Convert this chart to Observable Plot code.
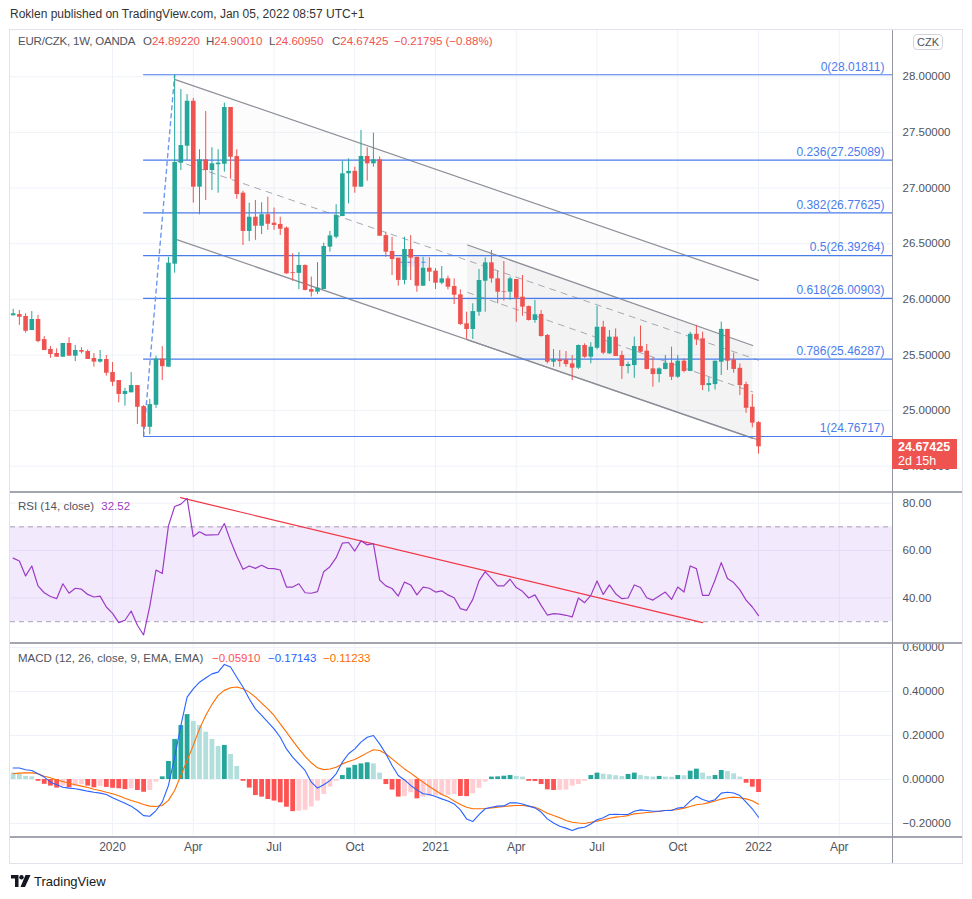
<!DOCTYPE html>
<html><head><meta charset="utf-8">
<script src="https://cdn.jsdelivr.net/npm/d3@7"></script>
<script src="https://cdn.jsdelivr.net/npm/@observablehq/plot@0.6"></script>
<style>
body{margin:0;background:#fff;font-family:"Liberation Sans",Arial,sans-serif;}
#root{position:relative;width:972px;height:899px;overflow:hidden;background:#fff;}
.abs{position:absolute;white-space:nowrap;}
.line{position:absolute;}
</style></head><body><div id="root"></div>
<script>
// ---------- DATA ----------
const barStart = "2019-09-16"; // first weekly bar (Monday)
const open = [25.852,25.863,25.846,25.720,25.819,25.638,25.549,25.513,25.480,25.603,25.489,25.540,25.531,25.468,25.436,25.459,
 25.342,25.270,25.145,25.160,25.225,25.036,24.850,25.048,25.462,25.390,
 26.316,27.224,27.376,27.780,27.008,27.254,27.158,27.210,27.214,27.724,
 27.283,26.954,26.610,26.738,26.657,26.760,26.684,26.673,26.640,26.240,
 26.233,26.304,26.088,26.064,26.088,26.469,26.558,26.744,27.128,27.150,
 27.008,27.284,27.218,27.254,26.573,26.430,26.370,26.170,26.448,26.378,
 26.118,26.280,26.253,26.145,26.184,26.115,26.040,25.780,25.729,25.884,
 26.163,26.328,26.184,26.070,26.064,26.178,26.019,25.935,25.810,25.864,
 25.675,25.435,25.456,25.456,25.420,25.381,25.585,25.480,25.560,25.749,
 25.510,25.660,25.495,25.396,25.405,25.576,25.534,25.375,25.324,25.370,
 25.426,25.300,25.444,25.352,25.686,25.645,25.225,25.234,25.435,25.730,
 25.456,25.380,25.234,25.030,24.8922];
const high = [25.910,25.900,25.870,25.890,25.855,25.665,25.576,25.555,25.603,25.657,25.585,25.565,25.545,25.513,25.540,25.495,
 25.432,25.270,25.200,25.342,25.225,25.045,25.100,25.490,25.575,26.378,
 28.018,27.886,27.840,27.805,27.344,27.688,27.362,27.344,27.763,27.724,
 27.344,26.972,26.864,26.888,26.868,26.918,26.820,26.738,26.650,26.410,
 26.420,26.310,26.200,26.330,26.504,26.610,26.850,27.242,27.263,27.188,
 27.518,27.362,27.494,27.280,26.603,26.558,26.370,26.558,26.573,26.378,
 26.378,26.375,26.277,26.295,26.208,26.184,26.085,25.884,25.960,26.268,
 26.373,26.439,26.253,26.340,26.200,26.178,26.214,25.940,25.990,25.900,
 25.684,25.549,25.540,25.531,25.495,25.590,25.600,25.610,25.936,25.803,
 25.720,25.735,25.534,25.435,25.660,25.760,25.594,25.474,25.384,25.495,
 25.570,25.495,25.465,25.704,25.766,25.705,25.295,25.444,25.795,25.730,
 25.516,25.420,25.255,25.145,24.9001];
const low = [25.852,25.766,25.696,25.720,25.610,25.540,25.470,25.480,25.480,25.489,25.440,25.510,25.459,25.390,25.427,25.310,
 25.216,25.070,25.040,25.160,24.875,24.767,24.783,25.020,25.270,25.390,
 26.235,27.158,27.248,26.864,26.760,26.888,26.978,26.954,27.143,27.080,
 26.900,26.484,26.520,26.530,26.582,26.620,26.620,26.574,26.225,26.163,
 26.086,26.075,26.020,26.043,26.088,26.424,26.544,26.744,26.858,26.954,
 27.008,27.062,27.188,26.567,26.378,26.214,26.118,26.130,26.170,26.064,
 26.118,26.160,26.088,26.130,26.085,25.953,25.765,25.640,25.640,25.848,
 25.884,26.145,25.960,25.985,25.990,25.794,25.848,25.805,25.785,25.660,
 25.420,25.390,25.390,25.390,25.270,25.370,25.470,25.420,25.546,25.504,
 25.504,25.486,25.280,25.330,25.290,25.520,25.365,25.210,25.250,25.365,
 25.270,25.290,25.340,25.350,25.585,25.180,25.166,25.185,25.315,25.360,
 25.336,25.135,24.976,24.845,24.6095];
const close = [25.870,25.839,25.713,25.819,25.620,25.540,25.504,25.480,25.603,25.489,25.540,25.525,25.459,25.436,25.459,25.336,
 25.255,25.145,25.172,25.225,25.030,24.850,25.054,25.462,25.395,26.325,
 27.230,27.382,27.780,27.008,27.254,27.158,27.218,27.224,27.724,27.277,
 26.942,26.610,26.738,26.657,26.760,26.675,26.664,26.630,26.229,26.233,
 26.304,26.080,26.064,26.100,26.475,26.570,26.753,27.128,27.150,27.008,
 27.284,27.218,27.254,26.567,26.424,26.358,26.170,26.448,26.370,26.118,
 26.280,26.244,26.145,26.184,26.109,26.037,25.774,25.729,25.890,26.169,
 26.328,26.184,26.064,26.064,26.184,26.010,25.930,25.810,25.861,25.666,
 25.435,25.459,25.440,25.414,25.381,25.585,25.480,25.570,25.749,25.516,
 25.660,25.486,25.396,25.414,25.576,25.525,25.370,25.324,25.375,25.426,
 25.300,25.444,25.352,25.686,25.636,25.225,25.243,25.444,25.730,25.444,
 25.370,25.225,25.021,24.887,24.67425];
const rsi = [56.8,55.6,49.3,53.5,45.1,42.2,40.6,39.7,46.0,42.0,44.1,43.7,41.5,40.4,40.8,36.2,
 33.5,29.6,30.6,34.5,28.5,24.4,36.6,51.8,50.3,70.4,
 78.6,79.6,82.0,65.9,67.9,66.5,66.6,66.7,71.4,64.1,
 57.7,52.1,53.5,52.5,53.8,52.5,52.4,51.8,44.6,44.6,
 46.0,42.2,42.0,42.7,51.1,53.2,57.0,63.1,63.4,59.8,
 64.1,62.4,62.9,47.6,45.1,44.0,40.8,46.7,45.5,41.3,
 44.6,44.1,42.5,43.0,41.3,40.1,35.5,34.8,39.4,47.2,
 51.1,48.2,45.1,45.1,47.9,44.4,42.8,40.0,41.3,36.9,
 32.8,33.4,33.2,32.7,32.0,40.0,38.0,41.1,47.2,41.5,
 45.5,41.8,39.7,40.0,45.5,44.4,40.1,39.1,40.8,42.5,
 39.4,44.6,42.5,53.5,52.4,41.1,41.1,47.6,54.9,48.2,
 46.5,43.4,39.1,36.2,32.52];
const macdLine = [0.052,0.052,0.044,0.041,0.026,0.011,-0.012,-0.024,-0.035,-0.039,-0.042,-0.047,-0.053,-0.058,-0.062,-0.068,
 -0.083,-0.095,-0.108,-0.121,-0.141,-0.164,-0.167,-0.141,-0.103,-0.027,
 0.102,0.245,0.374,0.412,0.442,0.461,0.480,0.488,0.523,0.511,
 0.465,0.420,0.367,0.321,0.291,0.261,0.230,0.192,0.139,0.102,
 0.071,0.041,-0.012,-0.039,-0.024,-0.005,0.026,0.079,0.117,0.139,
 0.170,0.192,0.200,0.162,0.117,0.064,0.018,-0.002,-0.027,-0.047,
 -0.065,-0.068,-0.077,-0.088,-0.098,-0.111,-0.138,-0.179,-0.191,-0.160,
 -0.133,-0.126,-0.121,-0.120,-0.106,-0.106,-0.111,-0.121,-0.129,-0.148,
 -0.179,-0.198,-0.212,-0.221,-0.232,-0.221,-0.217,-0.202,-0.183,-0.174,
 -0.159,-0.158,-0.159,-0.159,-0.144,-0.138,-0.141,-0.144,-0.144,-0.141,
 -0.141,-0.130,-0.126,-0.098,-0.076,-0.091,-0.100,-0.092,-0.062,-0.058,
 -0.061,-0.073,-0.103,-0.133,-0.17143];
const signalLine = [0.026,0.029,0.030,0.030,0.026,0.015,0.008,-0.002,-0.009,-0.017,-0.024,-0.030,-0.036,-0.044,-0.050,-0.058,
 -0.065,-0.074,-0.085,-0.095,-0.103,-0.114,-0.121,-0.123,-0.118,-0.095,
 -0.050,0.018,0.086,0.155,0.230,0.291,0.341,0.382,0.405,0.417,
 0.420,0.412,0.397,0.374,0.347,0.321,0.291,0.253,0.215,0.177,
 0.139,0.105,0.076,0.053,0.045,0.048,0.056,0.071,0.082,0.091,
 0.106,0.121,0.135,0.132,0.117,0.094,0.071,0.048,0.029,0.008,
 -0.012,-0.032,-0.050,-0.068,-0.080,-0.098,-0.114,-0.126,-0.133,-0.133,
 -0.132,-0.129,-0.126,-0.123,-0.120,-0.118,-0.118,-0.121,-0.126,-0.138,
 -0.153,-0.164,-0.174,-0.186,-0.194,-0.198,-0.200,-0.194,-0.189,-0.183,
 -0.176,-0.171,-0.168,-0.164,-0.156,-0.153,-0.150,-0.148,-0.144,-0.141,
 -0.139,-0.136,-0.130,-0.123,-0.115,-0.111,-0.105,-0.098,-0.089,-0.083,
 -0.080,-0.083,-0.088,-0.097,-0.11233];
const histogram = [0.030,0.023,0.014,0.012,-0.008,-0.022,-0.030,-0.039,-0.030,-0.038,-0.031,-0.024,-0.030,-0.038,-0.031,-0.036,
 -0.040,-0.042,-0.046,-0.042,-0.050,-0.058,-0.050,-0.012,0.012,0.082,
 0.182,0.245,0.295,0.264,0.245,0.215,0.182,0.150,0.155,0.114,
 0.059,-0.008,-0.039,-0.073,-0.080,-0.091,-0.098,-0.106,-0.126,-0.146,
 -0.144,-0.140,-0.125,-0.098,-0.068,-0.035,-0.008,0.018,0.052,0.064,
 0.071,0.076,0.071,0.029,-0.023,-0.048,-0.080,-0.078,-0.060,-0.088,
 -0.080,-0.077,-0.074,-0.073,-0.072,-0.068,-0.077,-0.078,-0.065,-0.040,
 -0.012,0.011,0.012,0.015,0.018,0.014,0.011,-0.008,-0.009,-0.023,
 -0.047,-0.050,-0.049,-0.048,-0.030,-0.023,-0.008,0.018,0.029,0.024,
 0.021,0.017,0.014,0.023,0.029,0.018,0.014,0.011,0.014,0.011,
 0.010,0.018,0.017,0.038,0.047,0.029,0.014,0.018,0.041,0.036,
 0.026,0.011,-0.017,-0.035,-0.0591];

const priceTicks = [24.5,25,25.5,26,26.5,27,27.5,28];
const rsiTicks = [40,60,80];
const macdTicks = [-0.2,0,0.2,0.4,0.6];
const xTickDates = ["2020-01-06","2020-04-06","2020-07-06","2020-10-05","2021-01-04","2021-04-05","2021-07-05","2021-10-04","2022-01-03","2022-04-04"];
const xTickLabels = ["2020","Apr","Jul","Oct","2021","Apr","Jul","Oct","2022","Apr"];
const xDomain = ["2019-09-13","2022-06-03"];
const priceDomain = [24.264, 28.416];
const rsiDomain = [20.8, 84.49];
const macdDomain = [-0.259, 0.618];

const fibRatios = [0,0.236,0.382,0.5,0.618,0.786,1];
const fibPrices = [28.01811,27.25089,26.77625,26.39264,26.00903,25.46287,24.76717];
const fibStart = "2020-02-10";
const fibTrendDates = ["2020-02-10","2020-03-16"];
const fibTrendPrices = [24.76717,28.01811];

const channelDates = ["2020-03-16T17:00Z","2022-01-03"];
const channelUpper = [27.975,26.170];
const channelMid = [27.250,25.453];
const channelLower = [26.541,24.736];
const smallDates = ["2021-02-09T05:00Z","2021-12-27T10:00Z"];
const smallUpper = [26.488,25.585];
const smallMid = [26.062,25.168];
const smallLower = [25.636,24.750];
const boxDates = ["2020-11-26","2020-12-27"];
const boxPrices = [26.288,26.333,26.378];

const rsiBandLevels = [30,70];
const rsiTrendDates = ["2020-03-22T15:00Z","2021-11-01"];
const rsiTrendValues = [82.3,29.6];

const lastInfo = {o:"24.89220", h:"24.90010", l:"24.60950", c:"24.67425", chg:"−0.21795 (−0.88%)", countdown:"2d 15h"};

// ---------- BUILD ----------
const UP="#26a69a", DN="#ef5350";
const W = 952;
const xDom = xDomain.map(d=>new Date(d));
const dates = close.map((_,i)=>d3.utcDay.offset(new Date(barStart), 7*i));
const bars = close.map((c,i)=>({date:dates[i], o:open[i], h:high[i], l:low[i], c, col: c>=open[i]?UP:DN}));
const xTicks = xTickDates.map((d,i)=>({date:new Date(d), label:xTickLabels[i], bold:/^\d{4}$/.test(xTickLabels[i])}));
const font = {fontFamily:"'Liberation Sans', Arial, sans-serif", fontSize:"11.5px", color:"#50535e", background:"transparent", overflow:"visible"};
const gridX = () => Plot.ruleX(xTicks, {x:"date", stroke:"#eff2f8"});
const pts = (ds, a, b, c) => ds.map((d,i)=>({date:new Date(d), upper:a[i], mid:b[i], lower:c[i]}));
const bigCh = pts(channelDates, channelUpper, channelMid, channelLower);
const smallCh = pts(smallDates, smallUpper, smallMid, smallLower);
const fibs = fibPrices.map((p,i)=>({ratio:fibRatios[i], price:p, start:new Date(fibStart), end:xDom[1]}));
const fibTrend = fibTrendDates.map((d,i)=>({date:new Date(d), price:fibTrendPrices[i]}));
const box = [{start:new Date(boxDates[0]), end:new Date(boxDates[1]), lo:boxPrices[0], mid:boxPrices[1], hi:boxPrices[2]}];
const fmtNeg = (d,n)=> (d<0?"−":"") + Math.abs(d).toFixed(n);

const pricePlot = Plot.plot({
  width:W, height:462, marginLeft:0, marginRight:70, marginTop:0, marginBottom:0,
  style:font,
  x:{type:"utc", domain:xDom, axis:null},
  y:{domain:priceDomain, axis:null},
  color:{type:"identity"},
  marks:[
    Plot.ruleY(priceTicks, {stroke:"#eff2f8"}),
    gridX(),
    Plot.areaY(bigCh, {x:"date", y1:"lower", y2:"upper", fill:"#787b86", fillOpacity:0.022}),
    Plot.areaY(smallCh, {x:"date", y1:"lower", y2:"upper", fill:"#787b86", fillOpacity:0.065}),
    Plot.line(bigCh, {x:"date", y:"upper", stroke:"#8c8f98", strokeWidth:1.2}),
    Plot.line(bigCh, {x:"date", y:"lower", stroke:"#8c8f98", strokeWidth:1.2}),
    Plot.line(bigCh, {x:"date", y:"mid", stroke:"#a6a9b1", strokeWidth:1, strokeDasharray:"6,6"}),
    Plot.line(smallCh, {x:"date", y:"upper", stroke:"#8c8f98", strokeWidth:1.2}),
    Plot.line(smallCh, {x:"date", y:"lower", stroke:"#8c8f98", strokeWidth:1.2}),
    Plot.line(smallCh, {x:"date", y:"mid", stroke:"#a6a9b1", strokeWidth:1, strokeDasharray:"6,6"}),
    Plot.rect(box, {x1:"start", x2:"end", y1:"lo", y2:"hi", fill:"#2962ff", fillOpacity:0.1}),
    Plot.ruleY(box, {x1:"start", x2:"end", y:"mid", stroke:"#2962ff", strokeOpacity:0.8, strokeDasharray:"4,3"}),
    Plot.ruleY(fibs, {y:"price", x1:"start", x2:"end", stroke:"#4a7deb", strokeWidth:1.2}),
    Plot.text(fibs, {y:"price", text:d=>`${d.ratio}(${d.price.toFixed(5)})`, frameAnchor:"right", dx:-8, dy:-8, textAnchor:"end", fill:"#4a7deb", fontSize:12}),
    Plot.line(fibTrend, {x:"date", y:"price", stroke:"#6e97f0", strokeWidth:1.4, strokeDasharray:"4,4"}),
    Plot.ruleX(bars, {x:"date", y1:"l", y2:"h", stroke:"col", strokeWidth:1}),
    Plot.ruleX(bars, {x:"date", y1:"o", y2:"c", stroke:"col", strokeWidth:4.6}),
    Plot.axisY({anchor:"right", ticks:priceTicks, tickFormat:d=>d.toFixed(5), tickSize:0, tickPadding:10, label:null})
  ]
});

const rsiData = rsi.map((v,i)=>({date:dates[i], v}));
const rsiTrend = rsiTrendDates.map((d,i)=>({date:new Date(d), v:rsiTrendValues[i]}));
const rsiPlot = Plot.plot({
  width:W, height:151, marginLeft:0, marginRight:70, marginTop:0, marginBottom:0,
  style:font,
  x:{type:"utc", domain:xDom, axis:null},
  y:{domain:rsiDomain, axis:null},
  marks:[
    Plot.ruleY(rsiTicks, {stroke:"#eff2f8"}),
    gridX(),
    Plot.rect([{lo:rsiBandLevels[0], hi:rsiBandLevels[1]}], {y1:"lo", y2:"hi", fill:"#8e24e0", fillOpacity:0.1}),
    Plot.ruleY(rsiBandLevels, {stroke:"#a7a1b3", strokeDasharray:"5,4"}),
    Plot.line(rsiTrend, {x:"date", y:"v", stroke:"#f23645", strokeWidth:1.2}),
    Plot.line(rsiData, {x:"date", y:"v", stroke:"#9c3cc6", strokeWidth:1.2}),
    Plot.axisY({anchor:"right", ticks:rsiTicks, tickFormat:d=>d.toFixed(2), tickSize:0, tickPadding:10, label:null})
  ]
});

const histData = histogram.map((v,i)=>({date:dates[i], v,
  tone: v>=0 ? (i>0 && v>histogram[i-1] ? "#26a69a" : "#b2dfdb") : (i>0 && v<histogram[i-1] ? "#ff5252" : "#ffcdd2")}));
const macdData = macdLine.map((v,i)=>({date:dates[i], m:v, s:signalLine[i]}));
const macdPlot = Plot.plot({
  width:W, height:220, marginLeft:0, marginRight:70, marginTop:0, marginBottom:27,
  style:font,
  x:{type:"utc", domain:xDom, axis:null},
  y:{domain:macdDomain, axis:null},
  color:{type:"identity"},
  marks:[
    Plot.ruleY(macdTicks, {stroke:"#eff2f8"}),
    gridX(),
    Plot.ruleX(histData, {x:"date", y1:0, y2:"v", stroke:"tone", strokeWidth:4.8}),
    Plot.line(macdData, {x:"date", y:"s", stroke:"#ff6d00", strokeWidth:1.1}),
    Plot.line(macdData, {x:"date", y:"m", stroke:"#2962ff", strokeWidth:1.1}),
    Plot.axisY({anchor:"right", ticks:macdTicks, tickFormat:d=>fmtNeg(d,5), tickSize:0, tickPadding:10, label:null}),
    Plot.text(xTicks, {x:"date", text:"label", frameAnchor:"bottom", dy:14, fontSize:12, fill:"#50535e", fontWeight:d=>d.bold?"bold":"normal"})
  ]
});

// ---------- LAYOUT ----------
const root = document.getElementById("root");
function place(el, left, top){ el.style.position="absolute"; el.style.left=left+"px"; el.style.top=top+"px"; root.appendChild(el); return el; }
function div(html, left, top, css){ const d=document.createElement("div"); d.className="abs"; d.innerHTML=html; if(css) d.style.cssText+=css; return place(d,left,top); }
function hline(left, top, width, h, color){ const d=document.createElement("div"); d.className="line"; d.style.cssText=`left:${left}px;top:${top}px;width:${width}px;height:${h}px;background:${color}`; root.appendChild(d); }
function vline(left, top, height, w, color){ const d=document.createElement("div"); d.className="line"; d.style.cssText=`left:${left}px;top:${top}px;width:${w}px;height:${height}px;background:${color}`; root.appendChild(d); }

place(pricePlot, 10, 30);
place(rsiPlot, 10, 492);
place(macdPlot, 10, 643);

// frame and pane separators
hline(10, 29, 952, 1, "#e0e3eb");
hline(10, 863, 952, 1, "#e0e3eb");
vline(9, 29, 835, 1, "#e0e3eb");
vline(962, 29, 835, 1, "#e0e3eb");
hline(10, 491, 952, 2, "#a3a6ae");
hline(10, 642, 952, 2, "#a3a6ae");
hline(10, 836, 952, 1.5, "#a3a6ae");
vline(892, 30, 833, 1, "#9598a1");

// header
div("Roklen published on TradingView.com, Jan 05, 2022 08:57 UTC+1", 10, 7, "font-size:12px;color:#333;");
const lg = "font-size:11.5px;color:#50535e;";
div("EUR/CZK, 1W, OANDA", 18, 35, "font-size:11.5px;color:#50535e;letter-spacing:-0.2px;");
const R = "color:#ef5350";
div(`O<span style="${R}">${lastInfo.o}</span>`, 143, 35, lg);
div(`H<span style="${R}">${lastInfo.h}</span>`, 206, 35, lg);
div(`L<span style="${R}">${lastInfo.l}</span>`, 269, 35, lg);
div(`C<span style="${R}">${lastInfo.c}</span>`, 332, 35, lg);
div(`<span style="${R}">${lastInfo.chg}</span>`, 394, 35, lg);
div("CZK", 913, 34, "font-size:11px;color:#50535e;border:1px solid #d1d4dc;border-radius:4px;padding:1px 3px;background:#fff;");

// last price tag
const yLast = pricePlot.scale("y").apply(close[close.length-1]) + 30;
div(`<div style="font-weight:bold;font-size:12.5px;line-height:14px">${lastInfo.c}</div><div style="font-size:12.5px;line-height:14px">${lastInfo.countdown}</div>`,
    892, Math.round(yLast - 7.5), "width:59px;height:29px;padding:1px 0 0 6px;background:#ef5350;color:#fff;");

// pane legends
div(`RSI (14, close) <span style="color:#9c3cc6;margin-left:4px">${rsi[rsi.length-1].toFixed(2)}</span>`, 18, 500, lg);
div(`MACD (12, 26, close, 9, EMA, EMA)`, 18, 652, lg);
div(`<span style="color:#ff5252">${fmtNeg(histogram[histogram.length-1],5)}</span>`, 212, 652, lg);
div(`<span style="color:#2962ff">${fmtNeg(macdLine[macdLine.length-1],5)}</span>`, 268, 652, lg);
div(`<span style="color:#ff6d00">${fmtNeg(signalLine[signalLine.length-1],5)}</span>`, 323, 652, lg);

// footer logo
div(`<svg width="20" height="12" viewBox="0 0 20 12" style="vertical-align:-1px"><path d="M0 0h7.5v12H4V3.5H0z" fill="#131722"/><circle cx="10.5" cy="2.2" r="2.2" fill="#131722"/><path d="M14.5 0h5L14 12H9.5z" fill="#131722"/></svg><span style="margin-left:3px">TradingView</span>`,
    11, 874, "font-size:13px;color:#131722;");
</script></body></html>
